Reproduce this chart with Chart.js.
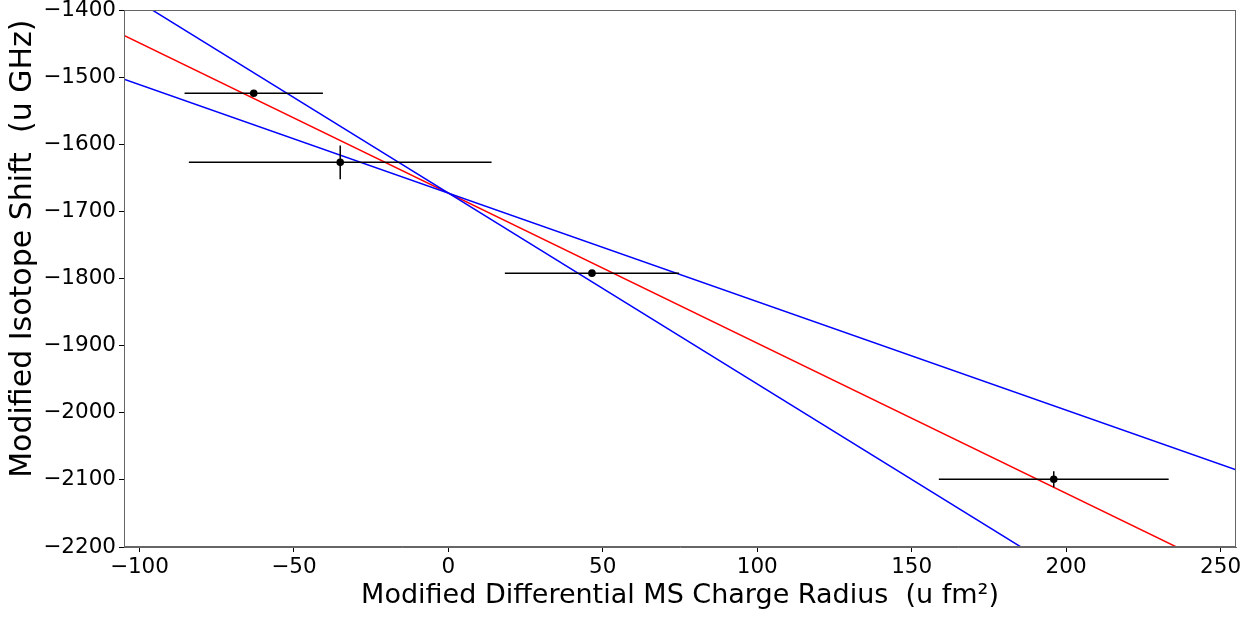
<!DOCTYPE html>
<html>
<head>
<meta charset="utf-8">
<script src="https://cdn.jsdelivr.net/npm/chart.js@4/dist/chart.umd.min.js"></script>
<style>
  body { margin: 0; background: #fff; }
  #wrap { width: 1256px; height: 617px; }
</style>
</head>
<body>
<div id="wrap"><canvas id="fitChart" width="1256" height="617"></canvas></div>
<script>
var radius = [-63, -35, 46.5, 196];
var radiusErr = [22.4, 49, 28.2, 37.2];
var shift = [-1524, -1627, -1792, -2099];
var shiftErr = [3, 25, 3, 12];

// fit lines, given by their values at the two ends of the x range
var lineX = [-105, 255];
var fitRed = [-1438, -2243];
var fitSteep = [-1374, -2398];
var fitShallow = [-1503, -2085];

var xTicks = [-100, -50, 0, 50, 100, 150, 200, 250];
var yTicks = [-2200, -2100, -2000, -1900, -1800, -1700, -1600, -1500, -1400];

function pairs(xs, ys) {
    return xs.map(function(x, i) { return { x: x, y: ys[i] }; });
}
function minusSign(v) {
    return String(v).replace('-', '\u2212');
}

var errorBars = {
    id: 'errorBars',
    afterDatasetsDraw: function(chart) {
        var xs = chart.scales.x, ys = chart.scales.y, c = chart.ctx;
        c.save();
        c.strokeStyle = '#000';
        c.lineWidth = 1.5;
        c.beginPath();
        for (var i = 0; i < radius.length; i++) {
            var py = ys.getPixelForValue(shift[i]);
            var px = xs.getPixelForValue(radius[i]);
            c.moveTo(xs.getPixelForValue(radius[i] - radiusErr[i]), py);
            c.lineTo(xs.getPixelForValue(radius[i] + radiusErr[i]), py);
            c.moveTo(px, ys.getPixelForValue(shift[i] - shiftErr[i]));
            c.lineTo(px, ys.getPixelForValue(shift[i] + shiftErr[i]));
        }
        c.stroke();
        c.fillStyle = '#000';
        for (var j = 0; j < radius.length; j++) {
            c.beginPath();
            c.arc(xs.getPixelForValue(radius[j]), ys.getPixelForValue(shift[j]), 3.8, 0, Math.PI * 2);
            c.fill();
        }
        c.restore();
    },
    afterDraw: function(chart) {
        var a = chart.chartArea, c = chart.ctx;
        c.save();
        c.strokeStyle = '#666';
        c.lineWidth = 1;
        c.strokeRect(a.left + 0.5, a.top + 0.5, a.right - a.left - 1, a.bottom - a.top - 1);
        c.restore();
    }
};

var ctx = document.getElementById('fitChart').getContext('2d');
var fitChart = new Chart(ctx, {
    type: 'scatter',
    data: {
        datasets: [
            { data: pairs(lineX, fitSteep), showLine: true, borderColor: 'blue', borderWidth: 1.5, pointRadius: 0 },
            { data: pairs(lineX, fitShallow), showLine: true, borderColor: 'blue', borderWidth: 1.5, pointRadius: 0 },
            { data: pairs(lineX, fitRed), showLine: true, borderColor: 'red', borderWidth: 1.5, pointRadius: 0 }
        ]
    },
    options: {
        responsive: false,
        animation: false,
        layout: { padding: { left: 0, right: 20, top: 10, bottom: 0 } },
        plugins: { legend: { display: false }, tooltip: { enabled: false } },
        scales: {
            x: {
                type: 'linear',
                min: -105,
                max: 255,
                afterBuildTicks: function(s) { s.ticks = xTicks.map(function(v) { return { value: v }; }); },
                afterFit: function(s) { s.height = 70; s.paddingLeft = 0; s.paddingRight = 0; },
                grid: { drawOnChartArea: false, tickLength: 5, color: '#000' },
                border: { color: '#666' },
                ticks: {
                    color: '#000',
                    padding: 3,
                    maxRotation: 0,
                    font: { family: 'DejaVu Sans', size: 21.5 },
                    callback: function(v) { return minusSign(v); }
                },
                title: {
                    display: true,
                    text: 'Modified Differential MS Charge Radius  (u fm\u00b2)',
                    color: '#000',
                    font: { family: 'DejaVu Sans', size: 27, lineHeight: 1.2 },
                    padding: { top: 0, bottom: 5 }
                }
            },
            y: {
                type: 'linear',
                min: -2200,
                max: -1400,
                afterBuildTicks: function(s) { s.ticks = yTicks.map(function(v) { return { value: v }; }); },
                afterFit: function(s) { s.width = 124; s.paddingTop = 0; s.paddingBottom = 0; },
                grid: { drawOnChartArea: false, tickLength: 5, color: '#000' },
                border: { color: '#666' },
                ticks: {
                    color: '#000',
                    padding: 3,
                    font: { family: 'DejaVu Sans', size: 21.5 },
                    callback: function(v) { return minusSign(v); }
                },
                title: {
                    display: true,
                    align: 'end',
                    text: 'Modified Isotope Shift  (u GHz) ',
                    color: '#000',
                    font: { family: 'DejaVu Sans', size: 30, lineHeight: 1.2 },
                    padding: { top: 5, bottom: 0 }
                }
            }
        }
    },
    plugins: [errorBars]
});
</script>
</body>
</html>
